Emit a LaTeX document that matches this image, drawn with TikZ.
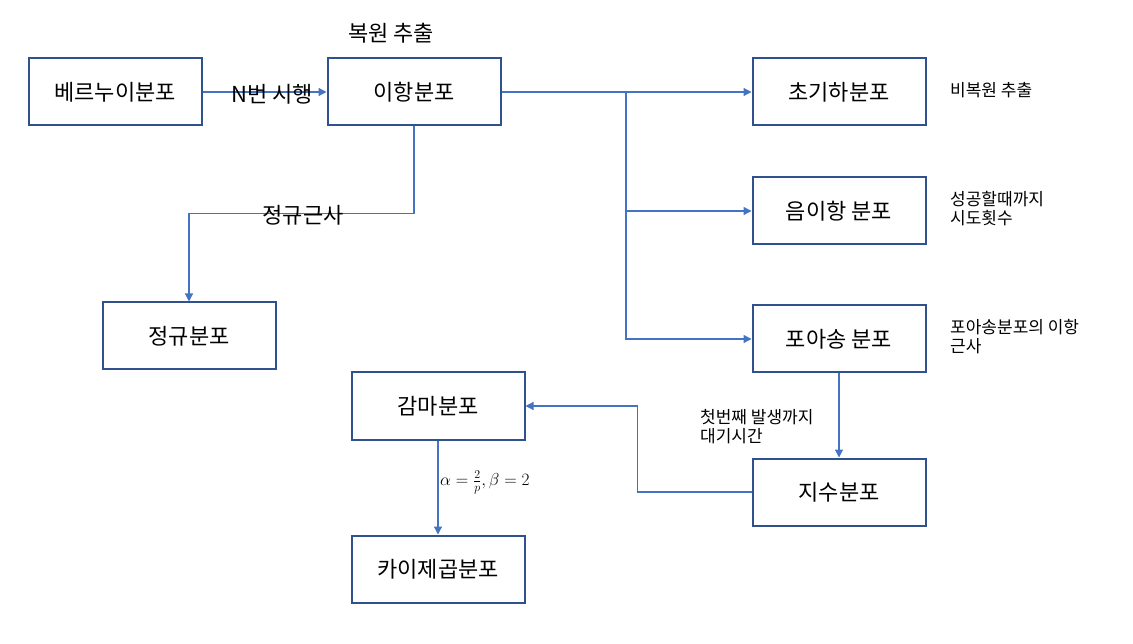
\documentclass[tikz,border=0pt]{standalone}
\usepackage{fontspec}
\setmainfont{Noto Sans CJK KR}
\usetikzlibrary{arrows.meta}
\definecolor{boxblue}{HTML}{2F528F}
\definecolor{lineblue}{HTML}{4472C4}
\begin{document}
\begin{tikzpicture}[x=1pt,y=-1pt,
  distbox/.style={draw=boxblue,line width=2pt,minimum width=173pt,minimum height=67pt,inner sep=0pt,font=\fontsize{22}{26}\selectfont},
  link/.style={draw=lineblue,line width=1.2pt},
  arr/.style={link,-{Triangle[length=8pt,width=8pt]}},
  biglab/.style={font=\fontsize{22}{26}\selectfont,inner sep=0pt},
  smalllab/.style={font=\fontsize{17}{19}\selectfont,inner sep=0pt,align=left}]

\useasboundingbox (0,0) rectangle (1133,644);

% les boites
\node[distbox] (bern) at (115,92) {베르누이분포};
\node[distbox] (bin) at (414,92) {이항분포};
\node[distbox] (hyper) at (839,92) {초기하분포};
\node[distbox] (negbin) at (839,211) {음이항 분포};
\node[distbox] (pois) at (839,339) {포아송 분포};
\node[distbox] (expo) at (839,492) {지수분포};
\node[distbox] (gam) at (438,406) {감마분포};
\node[distbox] (chi) at (438,569) {카이제곱분포};
\node[distbox] (norm) at (189,336) {정규분포};

% les fleches
\draw[arr] (bern.east)--(bin.west);
\draw[arr] (bin.east)--(hyper.west);
\coordinate (split) at (626,92);
\draw[arr] (split)|-(negbin.west);
\draw[arr] (split)|-(pois.west);
\draw[arr] (bin.south)--++(0,87)-|(norm.north);
\draw[arr] (pois.south)--(expo.north);
\draw[arr] (expo.west)--++(-114,0)|-(gam.east);
\draw[arr] (gam.south)--(chi.north);

% les textes
\node[biglab] (replab) at (391,33) {복원 추출};
\node[biglab] (trial) at (272,94) {N번 시행};
\node[biglab] (normlab) at (303,215) {정규근사};
\node[smalllab,anchor=west] (norep) at (950,90) {비복원 추출};
\node[smalllab,anchor=west] (tries) at (950,209) {성공할때까지\\시도횟수};
\node[smalllab,anchor=west] (approx) at (950,337) {포아송분포의 이항\\근사};
\node[smalllab,anchor=west] (wait) at (700,427) {첫번째 발생까지\\대기시간};
\node[inner sep=0pt,anchor=west,font=\fontsize{17}{19}\selectfont] (param) at (440,482) {$\alpha=\frac{2}{p},\beta=2$};
\end{tikzpicture}
\end{document}
